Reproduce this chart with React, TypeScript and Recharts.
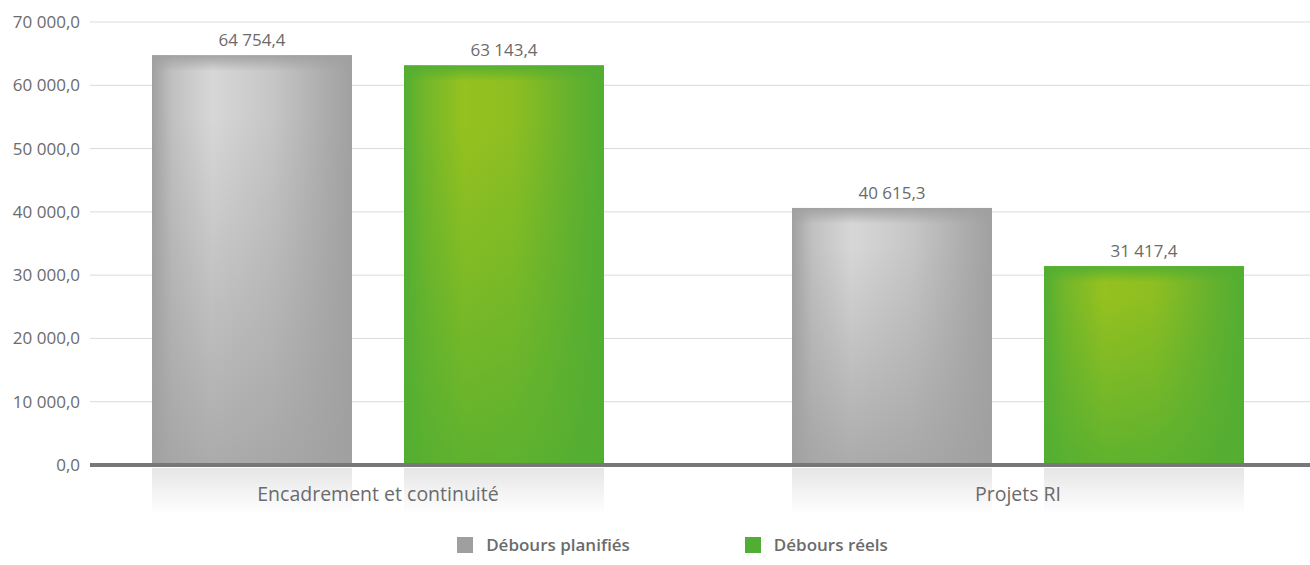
import React from "react"
import { BarChart, Bar, XAxis, YAxis, CartesianGrid, LabelList } from "recharts"

const categories = ["Encadrement et continuité", "Projets RI"]
const planned = [64754.4, 40615.3]
const actual = [63143.4, 31417.4]
const yTicks = [0, 10000, 20000, 30000, 40000, 50000, 60000, 70000]
const seriesNames = ["Débours planifiés", "Débours réels"]
const seriesColors = ["#9f9f9f", "#52ae32"]

const data = categories.map((name, i) => ({ name, planned: planned[i], actual: actual[i] }))

const FONT = "'Open Sans', 'Noto Sans', sans-serif"
const TEXT = "#6b6b6b"

// 64 754,4 style numbers
const fmt = (v: number) => {
  const [int, dec] = Number(v).toFixed(1).split(".")
  return int.replace(/\B(?=(\d{3})+(?!\d))/g, " ") + "," + dec
}

const BarWithReflection = (props: any) => {
  const { x, y, width, height, kind } = props
  if (!width || !height) return null
  const bottom = y + height
  return (
    <g>
      <rect x={x} y={y} width={width} height={height} fill={`url(#${kind}H)`} />
      <rect x={x} y={y} width={width} height={height} fill={`url(#${kind}V)`} />
      <rect x={x} y={y} width={width} height={Math.min(16, height)} fill={`url(#${kind}T)`} />
      <rect x={x} y={bottom + 3} width={width} height={46} fill="url(#reflect)" />
    </g>
  )
}

export default function App() {
  return (
    <div style={{ position: "absolute", left: 0, top: 0, width: 1310, height: 565, background: "#fff" }}>
      <BarChart
        width={1310}
        height={565}
        data={data}
        margin={{ top: 22, right: 0, left: 0, bottom: 70 }}
        barSize={200}
        barGap={52}
      >
        <defs>
          {/* gray bar */}
          <linearGradient id="grayH" x1="0" y1="0" x2="1" y2="0">
            <stop offset="0" stopColor="#a0a0a0" />
            <stop offset="0.1" stopColor="#c0c0c0" />
            <stop offset="0.3" stopColor="#d7d7d7" />
            <stop offset="0.6" stopColor="#c6c6c6" />
            <stop offset="0.88" stopColor="#ababab" />
            <stop offset="1" stopColor="#a0a0a0" />
          </linearGradient>
          <linearGradient id="grayV" x1="0" y1="0" x2="0" y2="1">
            <stop offset="0" stopColor="#a0a0a0" stopOpacity={0} />
            <stop offset="0.15" stopColor="#a0a0a0" stopOpacity={0} />
            <stop offset="1" stopColor="#a0a0a0" stopOpacity={0.8} />
          </linearGradient>
          <linearGradient id="grayT" x1="0" y1="0" x2="0" y2="1">
            <stop offset="0" stopColor="#a0a0a0" stopOpacity={0.95} />
            <stop offset="1" stopColor="#a0a0a0" stopOpacity={0} />
          </linearGradient>
          {/* green bar */}
          <linearGradient id="greenH" x1="0" y1="0" x2="1" y2="0">
            <stop offset="0" stopColor="#52ae32" />
            <stop offset="0.1" stopColor="#72b62a" />
            <stop offset="0.3" stopColor="#96c11f" />
            <stop offset="0.55" stopColor="#8dbe22" />
            <stop offset="0.85" stopColor="#64b12e" />
            <stop offset="1" stopColor="#52ae32" />
          </linearGradient>
          <linearGradient id="greenV" x1="0" y1="0" x2="0" y2="1">
            <stop offset="0" stopColor="#52ae32" stopOpacity={0} />
            <stop offset="0.15" stopColor="#52ae32" stopOpacity={0} />
            <stop offset="1" stopColor="#52ae32" stopOpacity={0.8} />
          </linearGradient>
          <linearGradient id="greenT" x1="0" y1="0" x2="0" y2="1">
            <stop offset="0" stopColor="#52ae32" stopOpacity={0.95} />
            <stop offset="1" stopColor="#52ae32" stopOpacity={0} />
          </linearGradient>
          <linearGradient id="reflect" x1="0" y1="0" x2="0" y2="1">
            <stop offset="0" stopColor="#e6e6e6" />
            <stop offset="1" stopColor="#ffffff" />
          </linearGradient>
        </defs>
        <CartesianGrid vertical={false} stroke="#dadada" />
        <Bar
          dataKey="planned"
          name={seriesNames[0]}
          fill={seriesColors[0]}
          isAnimationActive={false}
          shape={(p: any) => <BarWithReflection {...p} kind="gray" />}
        >
          <LabelList
            dataKey="planned"
            position="top"
            offset={9}
            formatter={(v: any) => fmt(v)}
            style={{ fontFamily: FONT, fontSize: 17, fill: TEXT }}
          />
        </Bar>
        <Bar
          dataKey="actual"
          name={seriesNames[1]}
          fill={seriesColors[1]}
          isAnimationActive={false}
          shape={(p: any) => <BarWithReflection {...p} kind="green" />}
        >
          <LabelList
            dataKey="actual"
            position="top"
            offset={9}
            formatter={(v: any) => fmt(v)}
            style={{ fontFamily: FONT, fontSize: 17, fill: TEXT }}
          />
        </Bar>
        <XAxis
          dataKey="name"
          padding={{ left: -32, right: -28 }}
          tickLine={false}
          tickSize={0}
          tickMargin={22}
          axisLine={{ stroke: "#77777a", strokeWidth: 4 }}
          tick={{ fontFamily: FONT, fontSize: 19.5, fill: TEXT }}
          interval={0}
        />
        <YAxis
          width={90}
          domain={[0, 70000]}
          ticks={yTicks}
          tickFormatter={fmt}
          axisLine={false}
          tickLine={false}
          tickSize={0}
          tickMargin={10}
          tick={{ fontFamily: FONT, fontSize: 17, fill: TEXT }}
        />
      </BarChart>
      {/* legend */}
      <div
        style={{
          position: "absolute",
          left: 0,
          top: 532,
          width: 1310,
          display: "flex",
          justifyContent: "center",
          gap: 115,
          fontFamily: FONT,
          fontSize: 17,
          fontWeight: 600,
          color: TEXT,
          lineHeight: "26px",
          paddingLeft: 35,
          boxSizing: "border-box",
        }}
      >
        {seriesNames.map((n, i) => (
          <div key={n} style={{ display: "flex", alignItems: "center" }}>
            <span
              style={{
                display: "inline-block",
                width: 16,
                height: 16,
                background: seriesColors[i],
                marginRight: 13,
              }}
            />
            {n}
          </div>
        ))}
      </div>
    </div>
  )
}
